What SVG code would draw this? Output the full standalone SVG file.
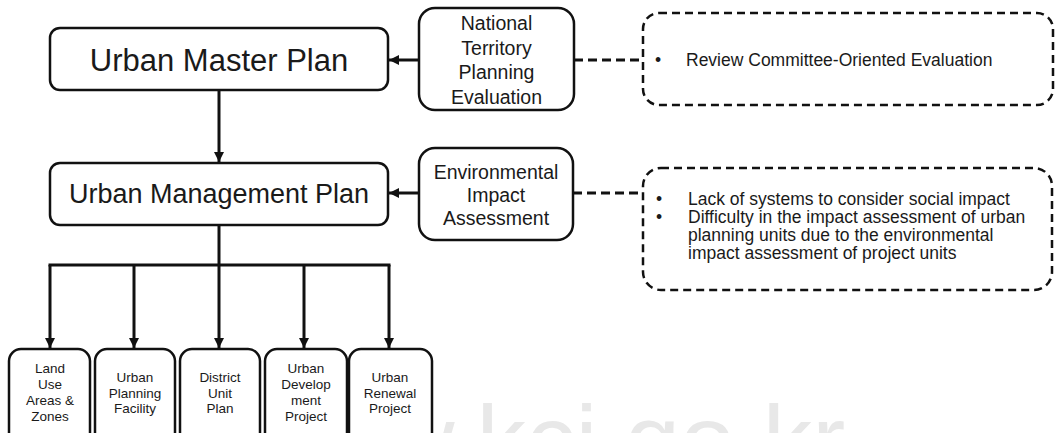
<svg xmlns="http://www.w3.org/2000/svg" width="1055" height="433" viewBox="0 0 1055 433">
<defs>
<style>
text{font-family:"Liberation Sans",Arial,sans-serif;fill:#1a1a1a;text-anchor:middle}
.box{fill:#fff;stroke:#111;stroke-width:2.5}
.dbox{fill:none;stroke:#111;stroke-width:2.5;stroke-dasharray:8,5}
.ln{fill:none;stroke:#111;stroke-width:3}
.dl{fill:none;stroke:#111;stroke-width:3;stroke-dasharray:9,5}
.big{font-size:31px}
.mid{font-size:19.5px}
.note{font-size:17.5px;text-anchor:start}
.sm{font-size:13.5px}
.wm{font-size:99px;fill:#e8e8e8;text-anchor:start}
</style>
<marker id="ah" viewBox="0 0 10 10" refX="10" refY="5" markerWidth="11" markerHeight="10" markerUnits="userSpaceOnUse" orient="auto">
<path d="M0,0 L10,5 L0,10 z" fill="#111"/>
</marker>
</defs>
<rect width="1055" height="433" fill="#fff"/>
<text class="wm" x="240" y="474">www.kci.go.kr</text>
<g id="connectors">
<line class="ln" x1="219" y1="90" x2="219" y2="162" marker-end="url(#ah)"/>
<line class="ln" x1="419" y1="60" x2="389" y2="60" marker-end="url(#ah)"/>
<line class="ln" x1="419" y1="193" x2="389" y2="193" marker-end="url(#ah)"/>
<line class="dl" x1="574" y1="60" x2="643" y2="60"/>
<line class="dl" x1="573" y1="193" x2="643" y2="193"/>
<line class="ln" x1="219" y1="225" x2="219" y2="265"/>
<line class="ln" x1="48.5" y1="265" x2="390.5" y2="265"/>
<line class="ln" x1="50" y1="265" x2="50" y2="348" marker-end="url(#ah)"/>
<line class="ln" x1="134" y1="265" x2="134" y2="348" marker-end="url(#ah)"/>
<line class="ln" x1="219" y1="265" x2="219" y2="348" marker-end="url(#ah)"/>
<line class="ln" x1="304" y1="265" x2="304" y2="348" marker-end="url(#ah)"/>
<line class="ln" x1="389" y1="265" x2="389" y2="348" marker-end="url(#ah)"/>
</g>
<g id="master">
<rect class="box" x="50" y="28" width="338" height="62" rx="10"/>
<text class="big" x="219" y="71">Urban Master Plan</text>
</g>
<g id="management">
<rect class="box" x="50" y="163" width="338" height="62" rx="10"/>
<text x="219" y="203" style="font-size:27px">Urban Management Plan</text>
</g>
<g id="ntpe">
<rect class="box" x="419" y="8" width="155" height="102" rx="16"/>
<text class="mid" x="496.5" y="30">National</text>
<text class="mid" x="496.5" y="55">Territory</text>
<text class="mid" x="496.5" y="79">Planning</text>
<text class="mid" x="496.5" y="104">Evaluation</text>
</g>
<g id="eia">
<rect class="box" x="419" y="148" width="154" height="92" rx="16"/>
<text class="mid" x="496" y="179">Environmental</text>
<text class="mid" x="496" y="202">Impact</text>
<text class="mid" x="496" y="225">Assessment</text>
</g>
<g id="note1">
<rect class="dbox" x="643" y="13" width="410" height="92" rx="16"/>
<text class="note" x="655" y="66">•</text>
<text class="note" x="686" y="66">Review Committee-Oriented Evaluation</text>
</g>
<g id="note2">
<rect class="dbox" x="643" y="168" width="409" height="122" rx="18"/>
<text class="note" x="656" y="205">•</text>
<text class="note" x="688" y="205">Lack of systems to consider social impact</text>
<text class="note" x="656" y="223">•</text>
<text class="note" x="688" y="223">Difficulty in the impact assessment of urban</text>
<text class="note" x="688" y="241">planning units due to the environmental</text>
<text class="note" x="688" y="259">impact assessment of project units</text>
</g>
<g id="landuse">
<rect class="box" x="9" y="349" width="81" height="100" rx="12"/>
<text class="sm" x="50" y="373">Land</text>
<text class="sm" x="50" y="389">Use</text>
<text class="sm" x="50" y="405">Areas &amp;</text>
<text class="sm" x="50" y="421">Zones</text>
</g>
<g id="facility">
<rect class="box" x="95" y="349" width="80" height="100" rx="12"/>
<text class="sm" x="135" y="382">Urban</text>
<text class="sm" x="135" y="398">Planning</text>
<text class="sm" x="135" y="413">Facility</text>
</g>
<g id="district">
<rect class="box" x="180" y="349" width="80" height="100" rx="12"/>
<text class="sm" x="220" y="382">District</text>
<text class="sm" x="220" y="398">Unit</text>
<text class="sm" x="220" y="413">Plan</text>
</g>
<g id="development">
<rect class="box" x="265" y="349" width="82" height="100" rx="12"/>
<text class="sm" x="306" y="373">Urban</text>
<text class="sm" x="306" y="389">Develop</text>
<text class="sm" x="306" y="405">ment</text>
<text class="sm" x="306" y="421">Project</text>
</g>
<g id="renewal">
<rect class="box" x="349" y="349" width="83" height="100" rx="12"/>
<text class="sm" x="390" y="382">Urban</text>
<text class="sm" x="390" y="398">Renewal</text>
<text class="sm" x="390" y="413">Project</text>
</g>
</svg>
